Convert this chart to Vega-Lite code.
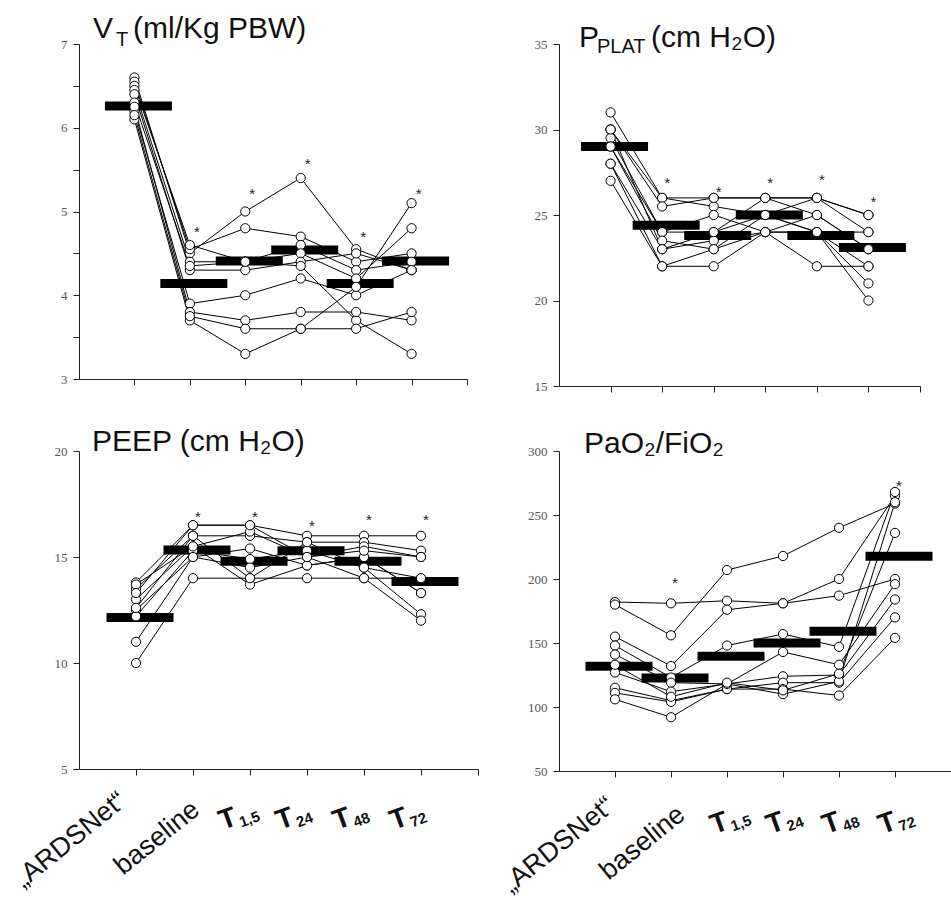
{
  "$schema": "https://vega.github.io/schema/vega-lite/v6.json",
  "background": "white",
  "padding": {"left": 9, "top": 14, "right": 0, "bottom": 0},
  "columns": 2,
  "align": "each",
  "spacing": {"row": 34, "column": 18},
  "config": {
    "view": {"stroke": null},
    "axis": {"grid": false, "domainColor": "#222", "tickColor": "#222", "tickSize": 6, "labelFont": "Liberation Serif", "labelFontSize": 13, "labelColor": "#555", "labelPadding": 6, "title": null}
  },
  "datasets": {
    "vt": [
      {"id":1,"t":1,"v":6.60},{"id":1,"t":2,"v":4.50},{"id":1,"t":3,"v":5.00},{"id":1,"t":4,"v":5.40},{"id":1,"t":5,"v":4.55},{"id":1,"t":6,"v":4.30},
      {"id":2,"t":1,"v":6.55},{"id":2,"t":2,"v":4.55},{"id":2,"t":3,"v":4.80},{"id":2,"t":4,"v":4.70},{"id":2,"t":5,"v":4.40},{"id":2,"t":6,"v":4.50},
      {"id":3,"t":1,"v":6.50},{"id":3,"t":2,"v":4.60},{"id":3,"t":3,"v":4.40},{"id":3,"t":4,"v":4.60},{"id":3,"t":5,"v":4.30},{"id":3,"t":6,"v":4.40},
      {"id":4,"t":1,"v":6.45},{"id":4,"t":2,"v":4.40},{"id":4,"t":3,"v":4.40},{"id":4,"t":4,"v":4.50},{"id":4,"t":5,"v":4.20},{"id":4,"t":6,"v":4.80},
      {"id":5,"t":1,"v":6.40},{"id":5,"t":2,"v":4.30},{"id":5,"t":3,"v":4.30},{"id":5,"t":4,"v":4.40},{"id":5,"t":5,"v":4.50},{"id":5,"t":6,"v":4.30},
      {"id":6,"t":1,"v":6.30},{"id":6,"t":2,"v":4.35},{"id":6,"t":3,"v":4.40},{"id":6,"t":4,"v":4.35},{"id":6,"t":5,"v":3.70},{"id":6,"t":6,"v":3.30},
      {"id":7,"t":1,"v":6.20},{"id":7,"t":2,"v":3.90},{"id":7,"t":3,"v":4.00},{"id":7,"t":4,"v":4.20},{"id":7,"t":5,"v":4.00},{"id":7,"t":6,"v":4.30},
      {"id":8,"t":1,"v":6.10},{"id":8,"t":2,"v":3.70},{"id":8,"t":3,"v":3.30},{"id":8,"t":4,"v":3.60},{"id":8,"t":5,"v":4.10},{"id":8,"t":6,"v":5.10},
      {"id":9,"t":1,"v":6.25},{"id":9,"t":2,"v":3.80},{"id":9,"t":3,"v":3.70},{"id":9,"t":4,"v":3.80},{"id":9,"t":5,"v":3.80},{"id":9,"t":6,"v":3.70},
      {"id":10,"t":1,"v":6.15},{"id":10,"t":2,"v":3.75},{"id":10,"t":3,"v":3.60},{"id":10,"t":4,"v":3.60},{"id":10,"t":5,"v":3.60},{"id":10,"t":6,"v":3.80}
    ],
    "vt_med": [{"t":1,"v":6.26},{"t":2,"v":4.14},{"t":3,"v":4.41},{"t":4,"v":4.54},{"t":5,"v":4.14},{"t":6,"v":4.41}],
    "vt_star": [{"t":2,"v":4.80},{"t":3,"v":5.26},{"t":4,"v":5.61},{"t":5,"v":4.74},{"t":6,"v":5.26}],
    "pp": [
      {"id":1,"t":1,"v":31},{"id":1,"t":2,"v":26},{"id":1,"t":3,"v":26},{"id":1,"t":4,"v":26},{"id":1,"t":5,"v":26},{"id":1,"t":6,"v":25},
      {"id":2,"t":1,"v":30},{"id":2,"t":2,"v":26},{"id":2,"t":3,"v":25.5},{"id":2,"t":4,"v":25},{"id":2,"t":5,"v":26},{"id":2,"t":6,"v":24},
      {"id":3,"t":1,"v":30},{"id":3,"t":2,"v":25.5},{"id":3,"t":3,"v":26},{"id":3,"t":4,"v":26},{"id":3,"t":5,"v":25},{"id":3,"t":6,"v":23},
      {"id":4,"t":1,"v":29.5},{"id":4,"t":2,"v":24},{"id":4,"t":3,"v":25},{"id":4,"t":4,"v":24},{"id":4,"t":5,"v":24},{"id":4,"t":6,"v":22},
      {"id":5,"t":1,"v":29},{"id":5,"t":2,"v":24},{"id":5,"t":3,"v":24},{"id":5,"t":4,"v":25},{"id":5,"t":5,"v":24},{"id":5,"t":6,"v":21},
      {"id":6,"t":1,"v":29},{"id":6,"t":2,"v":23.5},{"id":6,"t":3,"v":23},{"id":6,"t":4,"v":25},{"id":6,"t":5,"v":24},{"id":6,"t":6,"v":20},
      {"id":7,"t":1,"v":28},{"id":7,"t":2,"v":23},{"id":7,"t":3,"v":23.5},{"id":7,"t":4,"v":24},{"id":7,"t":5,"v":22},{"id":7,"t":6,"v":22},
      {"id":8,"t":1,"v":28},{"id":8,"t":2,"v":22},{"id":8,"t":3,"v":22},{"id":8,"t":4,"v":24},{"id":8,"t":5,"v":25},{"id":8,"t":6,"v":23},
      {"id":9,"t":1,"v":27},{"id":9,"t":2,"v":22},{"id":9,"t":3,"v":23},{"id":9,"t":4,"v":24},{"id":9,"t":5,"v":24},{"id":9,"t":6,"v":24},
      {"id":10,"t":1,"v":30},{"id":10,"t":2,"v":23},{"id":10,"t":3,"v":24},{"id":10,"t":4,"v":26},{"id":10,"t":5,"v":26},{"id":10,"t":6,"v":25}
    ],
    "pp_med": [{"t":1,"v":29.0},{"t":2,"v":24.4},{"t":3,"v":23.8},{"t":4,"v":25.0},{"t":5,"v":23.8},{"t":6,"v":23.1}],
    "pp_star": [{"t":2,"v":27.1},{"t":3,"v":26.6},{"t":4,"v":27.1},{"t":5,"v":27.3},{"t":6,"v":26.0}],
    "pe": [
      {"id":1,"t":1,"v":13.8},{"id":1,"t":2,"v":16.5},{"id":1,"t":3,"v":16.5},{"id":1,"t":4,"v":16.0},{"id":1,"t":5,"v":16.0},{"id":1,"t":6,"v":16.0},
      {"id":2,"t":1,"v":13.5},{"id":2,"t":2,"v":16.0},{"id":2,"t":3,"v":16.0},{"id":2,"t":4,"v":15.7},{"id":2,"t":5,"v":15.7},{"id":2,"t":6,"v":15.3},
      {"id":3,"t":1,"v":13.0},{"id":3,"t":2,"v":15.5},{"id":3,"t":3,"v":16.2},{"id":3,"t":4,"v":15.0},{"id":3,"t":5,"v":15.5},{"id":3,"t":6,"v":15.0},
      {"id":4,"t":1,"v":12.5},{"id":4,"t":2,"v":15.0},{"id":4,"t":3,"v":15.4},{"id":4,"t":4,"v":14.6},{"id":4,"t":5,"v":15.0},{"id":4,"t":6,"v":13.3},
      {"id":5,"t":1,"v":12.2},{"id":5,"t":2,"v":15.3},{"id":5,"t":3,"v":14.9},{"id":5,"t":4,"v":15.3},{"id":5,"t":5,"v":14.5},{"id":5,"t":6,"v":12.3},
      {"id":6,"t":1,"v":11.0},{"id":6,"t":2,"v":15.0},{"id":6,"t":3,"v":14.5},{"id":6,"t":4,"v":15.0},{"id":6,"t":5,"v":14.0},{"id":6,"t":6,"v":12.0},
      {"id":7,"t":1,"v":10.0},{"id":7,"t":2,"v":14.0},{"id":7,"t":3,"v":14.0},{"id":7,"t":4,"v":14.0},{"id":7,"t":5,"v":14.0},{"id":7,"t":6,"v":14.0},
      {"id":8,"t":1,"v":13.7},{"id":8,"t":2,"v":15.5},{"id":8,"t":3,"v":13.7},{"id":8,"t":4,"v":14.6},{"id":8,"t":5,"v":15.0},{"id":8,"t":6,"v":13.3},
      {"id":9,"t":1,"v":12.6},{"id":9,"t":2,"v":16.0},{"id":9,"t":3,"v":14.0},{"id":9,"t":4,"v":15.7},{"id":9,"t":5,"v":14.5},{"id":9,"t":6,"v":14.0},
      {"id":10,"t":1,"v":13.3},{"id":10,"t":2,"v":16.5},{"id":10,"t":3,"v":16.5},{"id":10,"t":4,"v":15.0},{"id":10,"t":5,"v":15.3},{"id":10,"t":6,"v":15.0}
    ],
    "pe_med": [{"t":1,"v":12.15},{"t":2,"v":15.33},{"t":3,"v":14.8},{"t":4,"v":15.3},{"t":5,"v":14.8},{"t":6,"v":13.84}],
    "pe_star": [{"t":2,"v":17.08},{"t":3,"v":17.08},{"t":4,"v":16.67},{"t":5,"v":16.92},{"t":6,"v":16.92}],
    "pf": [
      {"id":1,"t":1,"v":182},{"id":1,"t":2,"v":181},{"id":1,"t":3,"v":183},{"id":1,"t":4,"v":181},{"id":1,"t":5,"v":187},{"id":1,"t":6,"v":200},
      {"id":2,"t":1,"v":180},{"id":2,"t":2,"v":156},{"id":2,"t":3,"v":207},{"id":2,"t":4,"v":218},{"id":2,"t":5,"v":240},{"id":2,"t":6,"v":259},
      {"id":3,"t":1,"v":155},{"id":3,"t":2,"v":132},{"id":3,"t":3,"v":176},{"id":3,"t":4,"v":181},{"id":3,"t":5,"v":200},{"id":3,"t":6,"v":265},
      {"id":4,"t":1,"v":148},{"id":4,"t":2,"v":123},{"id":4,"t":3,"v":148},{"id":4,"t":4,"v":157},{"id":4,"t":5,"v":147},{"id":4,"t":6,"v":268},
      {"id":5,"t":1,"v":141},{"id":5,"t":2,"v":119},{"id":5,"t":3,"v":118},{"id":5,"t":4,"v":143},{"id":5,"t":5,"v":133},{"id":5,"t":6,"v":196},
      {"id":6,"t":1,"v":127},{"id":6,"t":2,"v":112},{"id":6,"t":3,"v":118},{"id":6,"t":4,"v":124},{"id":6,"t":5,"v":125},{"id":6,"t":6,"v":184},
      {"id":7,"t":1,"v":115},{"id":7,"t":2,"v":105},{"id":7,"t":3,"v":114},{"id":7,"t":4,"v":119},{"id":7,"t":5,"v":119},{"id":7,"t":6,"v":170},
      {"id":8,"t":1,"v":111},{"id":8,"t":2,"v":104},{"id":8,"t":3,"v":114},{"id":8,"t":4,"v":114},{"id":8,"t":5,"v":109},{"id":8,"t":6,"v":154},
      {"id":9,"t":1,"v":106},{"id":9,"t":2,"v":92},{"id":9,"t":3,"v":118},{"id":9,"t":4,"v":110},{"id":9,"t":5,"v":120},{"id":9,"t":6,"v":260},
      {"id":10,"t":1,"v":133},{"id":10,"t":2,"v":108},{"id":10,"t":3,"v":119},{"id":10,"t":4,"v":113},{"id":10,"t":5,"v":126},{"id":10,"t":6,"v":236}
    ],
    "pf_med": [{"t":1,"v":131.8},{"t":2,"v":122.7},{"t":3,"v":139.6},{"t":4,"v":150},{"t":5,"v":159.1},{"t":6,"v":217.7}],
    "pf_star": [{"t":2,"v":200},{"t":6,"v":275.6}],
    "lab_a": [{"t":1,"lab":"\u201eARDSNet\u201c"}],
    "lab_b": [{"t":2,"lab":"baseline"}],
    "lab_t": [{"t":3,"sub":"1,5"},{"t":4,"sub":"24"},{"t":5,"sub":"48"},{"t":6,"sub":"72"}]
  },
  "concat": [
    {
      "width": 388, "height": 335,
      "data": {"name": "vt"},
      "layer": [
        {"mark": {"type": "line", "color": "black", "strokeWidth": 1},
         "encoding": {
           "x": {"field": "t", "type": "quantitative", "scale": {"domain": [0, 7], "nice": false}, "axis": {"values": [1,2,3,4,5,6,7], "labels": false}},
           "y": {"field": "v", "type": "quantitative", "scale": {"domain": [3, 7], "nice": false, "zero": false}, "axis": {"values": [3,3.5,4,4.5,5,5.5,6,6.5,7], "labelExpr": "datum.value % 1 === 0 ? format(datum.value, 'd') : ''"}},
           "detail": {"field": "id"}}},
        {"data": {"name": "vt_med"}, "mark": {"type": "tick", "orient": "horizontal", "size": 67, "thickness": 9, "color": "black", "opacity": 1, "xOffset": 4},
         "encoding": {"x": {"field": "t", "type": "quantitative"}, "y": {"field": "v", "type": "quantitative"}}},
        {"mark": {"type": "point", "shape": "circle", "filled": true, "fill": "white", "stroke": "black", "strokeWidth": 1, "size": 85, "opacity": 1},
         "encoding": {"x": {"field": "t", "type": "quantitative"}, "y": {"field": "v", "type": "quantitative"}}},
        {"data": {"name": "vt_star"}, "mark": {"type": "text", "text": "*", "font": "Liberation Sans", "fontSize": 15, "dx": 7, "dy": 4, "color": "#222"},
         "encoding": {"x": {"field": "t", "type": "quantitative"}, "y": {"field": "v", "type": "quantitative"}}},
        {"data": {"values": [{}]}, "mark": {"type": "text", "text": "V", "font": "Liberation Sans", "fontSize": 30, "align": "left", "baseline": "alphabetic", "dx": 14, "dy": -6, "color": "#111"},
         "encoding": {"x": {"datum": 0}, "y": {"datum": 7}}},
        {"data": {"values": [{}]}, "mark": {"type": "text", "text": "T", "font": "Liberation Sans", "fontSize": 20, "align": "left", "baseline": "alphabetic", "dx": 37, "dy": 2, "color": "#111"},
         "encoding": {"x": {"datum": 0}, "y": {"datum": 7}}},
        {"data": {"values": [{}]}, "mark": {"type": "text", "text": "(ml/Kg PBW)", "font": "Liberation Sans", "fontSize": 30, "align": "left", "baseline": "alphabetic", "dx": 54, "dy": -6, "color": "#111"},
         "encoding": {"x": {"datum": 0}, "y": {"datum": 7}}}
      ]
    },
    {
      "width": 361, "height": 342,
      "data": {"name": "pp"},
      "layer": [
        {"mark": {"type": "line", "color": "black", "strokeWidth": 1},
         "encoding": {
           "x": {"field": "t", "type": "quantitative", "scale": {"domain": [0, 7], "nice": false}, "axis": {"values": [1,2,3,4,5,6,7], "labels": false}},
           "y": {"field": "v", "type": "quantitative", "scale": {"domain": [15, 35], "nice": false, "zero": false}, "axis": {"values": [15,20,25,30,35]}},
           "detail": {"field": "id"}}},
        {"data": {"name": "pp_med"}, "mark": {"type": "tick", "orient": "horizontal", "size": 67, "thickness": 9, "color": "black", "opacity": 1, "xOffset": 4},
         "encoding": {"x": {"field": "t", "type": "quantitative"}, "y": {"field": "v", "type": "quantitative"}}},
        {"mark": {"type": "point", "shape": "circle", "filled": true, "fill": "white", "stroke": "black", "strokeWidth": 1, "size": 85, "opacity": 1},
         "encoding": {"x": {"field": "t", "type": "quantitative"}, "y": {"field": "v", "type": "quantitative"}}},
        {"data": {"name": "pp_star"}, "mark": {"type": "text", "text": "*", "font": "Liberation Sans", "fontSize": 15, "dx": 5, "dy": 4, "color": "#222"},
         "encoding": {"x": {"field": "t", "type": "quantitative"}, "y": {"field": "v", "type": "quantitative"}}},
        {"data": {"values": [{}]}, "mark": {"type": "text", "text": "P", "font": "Liberation Sans", "fontSize": 30, "align": "left", "baseline": "alphabetic", "dx": 20, "dy": 3, "color": "#111"},
         "encoding": {"x": {"datum": 0}, "y": {"datum": 35}}},
        {"data": {"values": [{}]}, "mark": {"type": "text", "text": "PLAT", "font": "Liberation Sans", "fontSize": 20, "align": "left", "baseline": "alphabetic", "dx": 38, "dy": 9, "color": "#111"},
         "encoding": {"x": {"datum": 0}, "y": {"datum": 35}}},
        {"data": {"values": [{}]}, "mark": {"type": "text", "text": "(cm H₂O)", "font": "Liberation Sans", "fontSize": 30, "align": "left", "baseline": "alphabetic", "dx": 92, "dy": 3, "color": "#111"},
         "encoding": {"x": {"datum": 0}, "y": {"datum": 35}}}
      ]
    },
    {
      "width": 399, "height": 318,
      "data": {"name": "pe"},
      "layer": [
        {"mark": {"type": "line", "color": "black", "strokeWidth": 1},
         "encoding": {
           "x": {"field": "t", "type": "quantitative", "scale": {"domain": [0, 7], "nice": false}, "axis": {"values": [1,2,3,4,5,6,7], "labels": false}},
           "y": {"field": "v", "type": "quantitative", "scale": {"domain": [5, 20], "nice": false, "zero": false}, "axis": {"values": [5,10,15,20]}},
           "detail": {"field": "id"}}},
        {"data": {"name": "pe_med"}, "mark": {"type": "tick", "orient": "horizontal", "size": 67, "thickness": 9, "color": "black", "opacity": 1, "xOffset": 4},
         "encoding": {"x": {"field": "t", "type": "quantitative"}, "y": {"field": "v", "type": "quantitative"}}},
        {"mark": {"type": "point", "shape": "circle", "filled": true, "fill": "white", "stroke": "black", "strokeWidth": 1, "size": 85, "opacity": 1},
         "encoding": {"x": {"field": "t", "type": "quantitative"}, "y": {"field": "v", "type": "quantitative"}}},
        {"data": {"name": "pe_star"}, "mark": {"type": "text", "text": "*", "font": "Liberation Sans", "fontSize": 15, "dx": 5, "dy": 4, "color": "#222"},
         "encoding": {"x": {"field": "t", "type": "quantitative"}, "y": {"field": "v", "type": "quantitative"}}},
        {"data": {"values": [{}]}, "mark": {"type": "text", "text": "PEEP (cm H₂O)", "font": "Liberation Sans", "fontSize": 30, "align": "left", "baseline": "alphabetic", "dx": 13, "dy": 0, "color": "#111"},
         "encoding": {"x": {"datum": 0}, "y": {"datum": 20}}},
        {"data": {"name": "lab_a"}, "mark": {"type": "text", "font": "Liberation Sans", "fontSize": 27, "angle": -39, "align": "right", "baseline": "middle", "dx": -28, "dy": 14, "color": "#111"},
         "encoding": {"x": {"field": "t", "type": "quantitative"}, "y": {"datum": 5}, "text": {"field": "lab"}}},
        {"data": {"name": "lab_b"}, "mark": {"type": "text", "font": "Liberation Sans", "fontSize": 27, "angle": -39, "align": "right", "baseline": "middle", "dx": -21, "dy": 31, "color": "#111"},
         "encoding": {"x": {"field": "t", "type": "quantitative"}, "y": {"datum": 5}, "text": {"field": "lab"}}},
        {"data": {"name": "lab_t"}, "mark": {"type": "text", "text": "T", "font": "Liberation Sans", "fontWeight": "bold", "fontSize": 28, "angle": -20, "align": "center", "baseline": "middle", "dx": -38, "dy": 40, "color": "#111"},
         "encoding": {"x": {"field": "t", "type": "quantitative"}, "y": {"datum": 5}}},
        {"data": {"name": "lab_t"}, "mark": {"type": "text", "font": "Liberation Sans", "fontWeight": "bold", "fontSize": 15, "angle": -20, "align": "left", "baseline": "middle", "dx": -28, "dy": 47, "color": "#111"},
         "encoding": {"x": {"field": "t", "type": "quantitative"}, "y": {"datum": 5}, "text": {"field": "sub"}}}
      ]
    },
    {
      "width": 392, "height": 320,
      "data": {"name": "pf"},
      "layer": [
        {"mark": {"type": "line", "color": "black", "strokeWidth": 1},
         "encoding": {
           "x": {"field": "t", "type": "quantitative", "scale": {"domain": [0, 7], "nice": false}, "axis": {"values": [1,2,3,4,5,6,7], "labels": false}},
           "y": {"field": "v", "type": "quantitative", "scale": {"domain": [50, 300], "nice": false, "zero": false}, "axis": {"values": [50,100,150,200,250,300]}},
           "detail": {"field": "id"}}},
        {"data": {"name": "pf_med"}, "mark": {"type": "tick", "orient": "horizontal", "size": 67, "thickness": 9, "color": "black", "opacity": 1, "xOffset": 4},
         "encoding": {"x": {"field": "t", "type": "quantitative"}, "y": {"field": "v", "type": "quantitative"}}},
        {"mark": {"type": "point", "shape": "circle", "filled": true, "fill": "white", "stroke": "black", "strokeWidth": 1, "size": 85, "opacity": 1},
         "encoding": {"x": {"field": "t", "type": "quantitative"}, "y": {"field": "v", "type": "quantitative"}}},
        {"data": {"name": "pf_star"}, "mark": {"type": "text", "text": "*", "font": "Liberation Sans", "fontSize": 15, "dx": 4, "dy": 4, "color": "#222"},
         "encoding": {"x": {"field": "t", "type": "quantitative"}, "y": {"field": "v", "type": "quantitative"}}},
        {"data": {"values": [{}]}, "mark": {"type": "text", "text": "PaO₂/FiO₂", "font": "Liberation Sans", "fontSize": 30, "align": "left", "baseline": "alphabetic", "dx": 25, "dy": 2, "color": "#111"},
         "encoding": {"x": {"datum": 0}, "y": {"datum": 300}}},
        {"data": {"name": "lab_a"}, "mark": {"type": "text", "font": "Liberation Sans", "fontSize": 27, "angle": -39, "align": "right", "baseline": "middle", "dx": -23, "dy": 22, "color": "#111"},
         "encoding": {"x": {"field": "t", "type": "quantitative"}, "y": {"datum": 50}, "text": {"field": "lab"}}},
        {"data": {"name": "lab_b"}, "mark": {"type": "text", "font": "Liberation Sans", "fontSize": 27, "angle": -39, "align": "right", "baseline": "middle", "dx": -17, "dy": 38, "color": "#111"},
         "encoding": {"x": {"field": "t", "type": "quantitative"}, "y": {"datum": 50}, "text": {"field": "lab"}}},
        {"data": {"name": "lab_t"}, "mark": {"type": "text", "text": "T", "font": "Liberation Sans", "fontWeight": "bold", "fontSize": 28, "angle": -20, "align": "center", "baseline": "middle", "dx": -25, "dy": 47, "color": "#111"},
         "encoding": {"x": {"field": "t", "type": "quantitative"}, "y": {"datum": 50}}},
        {"data": {"name": "lab_t"}, "mark": {"type": "text", "font": "Liberation Sans", "fontWeight": "bold", "fontSize": 15, "angle": -20, "align": "left", "baseline": "middle", "dx": -15, "dy": 54, "color": "#111"},
         "encoding": {"x": {"field": "t", "type": "quantitative"}, "y": {"datum": 50}, "text": {"field": "sub"}}}
      ]
    }
  ]
}
